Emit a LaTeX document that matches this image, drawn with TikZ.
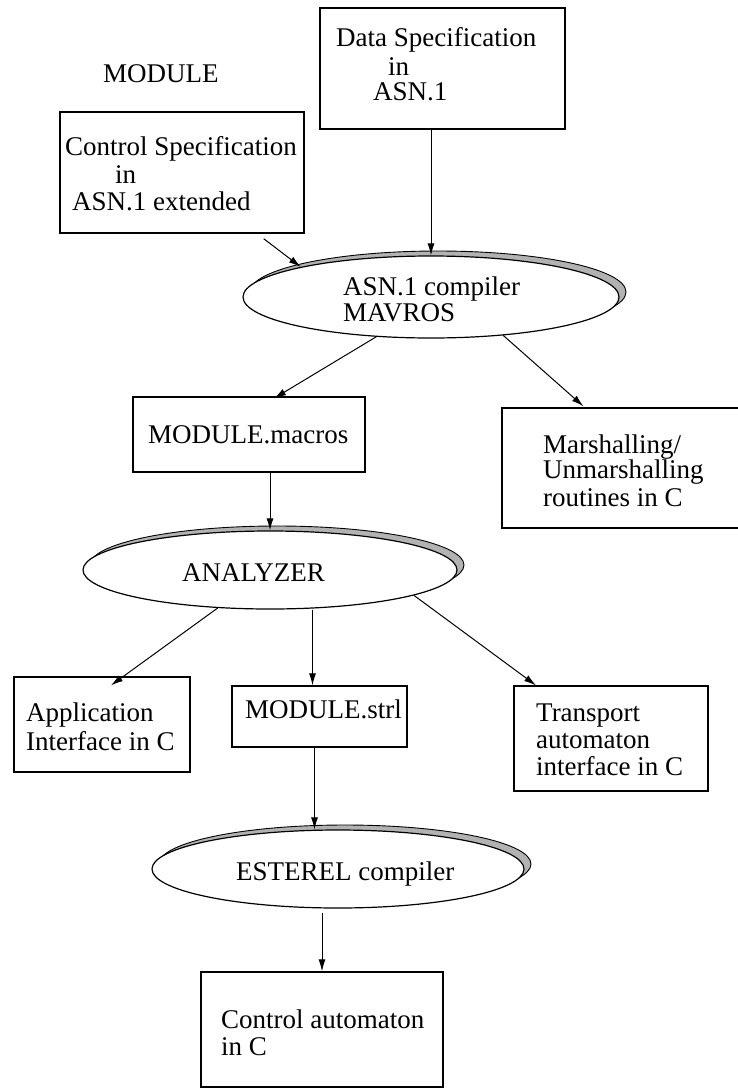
\documentclass[tikz,border=0pt]{standalone}
\usepackage{fontspec}
\setmainfont{Liberation Serif}
\usetikzlibrary{arrows.meta,calc,shapes.geometric}
\begin{document}
\begin{tikzpicture}[x=1pt,y=-1pt,
  box/.style={draw,line width=1.3pt,inner sep=0pt},
  oval/.style={ellipse,draw,line width=1.2pt,fill=white,inner sep=0pt},
  ovalshadow/.style={ellipse,draw,line width=0.9pt,fill=gray!60,inner sep=0pt},
  lbl/.style={anchor=base west,inner sep=0pt,text height=18pt,text depth=5pt,font=\fontsize{27}{30}\selectfont},
  arr/.style={-{Latex[length=12pt,width=7pt]},line width=1pt}]
\useasboundingbox (0,0) rectangle (738,1090);
\clip (0,0) rectangle (738,1090);
\fill[white] (0,0) rectangle (738,1090);

% boxes
\node[box,minimum width=245pt,minimum height=121pt] (data) at (442.5,68.5) {};
\node[box,minimum width=244pt,minimum height=121pt] (control) at (182,172.5) {};
\node[box,minimum width=232pt,minimum height=75pt] (macros) at (249,434.5) {};
\node[box,minimum width=243pt,minimum height=120pt] (marsh) at (623.5,468) {};
\node[box,minimum width=176pt,minimum height=95pt] (app) at (102,724.5) {};
\node[box,minimum width=175pt,minimum height=61pt] (strl) at (319.5,716.5) {};
\node[box,minimum width=194pt,minimum height=105pt] (transport) at (611,738.5) {};
\node[box,minimum width=242pt,minimum height=115pt] (ctrlaut) at (322,1029.5) {};

% ellipses with shadow
\node[ovalshadow,minimum width=376pt,minimum height=82pt] (asnS) at (438,292) {};
\node[oval,minimum width=376pt,minimum height=82pt] (asn) at (431,297) {};
\node[ovalshadow,minimum width=374pt,minimum height=78pt] (analyzerS) at (277,565) {};
\node[oval,minimum width=374pt,minimum height=78pt] (analyzer) at (270,570) {};
\node[ovalshadow,minimum width=372pt,minimum height=78pt] (esterelS) at (345,864) {};
\node[oval,minimum width=372pt,minimum height=78pt] (esterel) at (338,869) {};

% texts
\node[lbl] (tmod) at (103,82) {MODULE};
\node[lbl] (td1) at (336,46) {Data Specification};
\node[lbl] (td2) at (388,75) {in};
\node[lbl] (td3) at (373,100) {ASN.1};
\node[lbl] (tc1) at (65,155) {Control Specification};
\node[lbl] (tc2) at (115,183) {in};
\node[lbl] (tc3) at (72,210) {ASN.1 extended};
\node[lbl] (ta1) at (343,295) {ASN.1 compiler};
\node[lbl] (ta2) at (343,321) {MAVROS};
\node[lbl] (tmac) at (148,443) {MODULE.macros};
\node[lbl] (tm1) at (543,453) {Marshalling/};
\node[lbl] (tm2) at (543,478) {Unmarshalling};
\node[lbl] (tm3) at (543,506) {routines in C};
\node[lbl] (tan) at (182,581) {ANALYZER};
\node[lbl] (tap1) at (26,721) {Application};
\node[lbl] (tap2) at (26,750) {Interface in C};
\node[lbl] (tstrl) at (245,718) {MODULE.strl};
\node[lbl] (ttr1) at (536,721) {Transport};
\node[lbl] (ttr2) at (536,748) {automaton};
\node[lbl] (ttr3) at (536,775) {interface in C};
\node[lbl] (tes) at (236,880) {ESTEREL compiler};
\node[lbl] (tca1) at (221,1028) {Control automaton};
\node[lbl] (tca2) at (221,1055) {in C};

% connectors
\draw[arr] (data.south -| asn.north) -- (asn.north);
\draw[arr] ($(control.south east)+(-41,5)$) -- (asn.167);
\draw[arr] (asn.216) -- ($(macros.north)+(25,2)$);
\draw[arr] (asn.332) -- ($(marsh.north)+(-40,-1)$);
\draw[arr] (macros.south -| analyzer.north) -- (analyzer.north);
\draw[arr] (analyzer.216) -- ($(app.north)+(9,9)$);
\coordinate (sN) at ($(strl.north)+(-7,0)$);
\draw[arr] (analyzer.south -| sN) -- (sN);
\draw[arr] (analyzer.350) -- ($(transport.north)+(-75,0)$);
\coordinate (eN) at ($(strl.south)+(-5,0)$);
\draw[arr] (eN) -- (eN |- esterel.north);
\draw[arr,shorten <=4pt] (esterel.south -| ctrlaut.north) -- (ctrlaut.north);
\end{tikzpicture}
\end{document}
